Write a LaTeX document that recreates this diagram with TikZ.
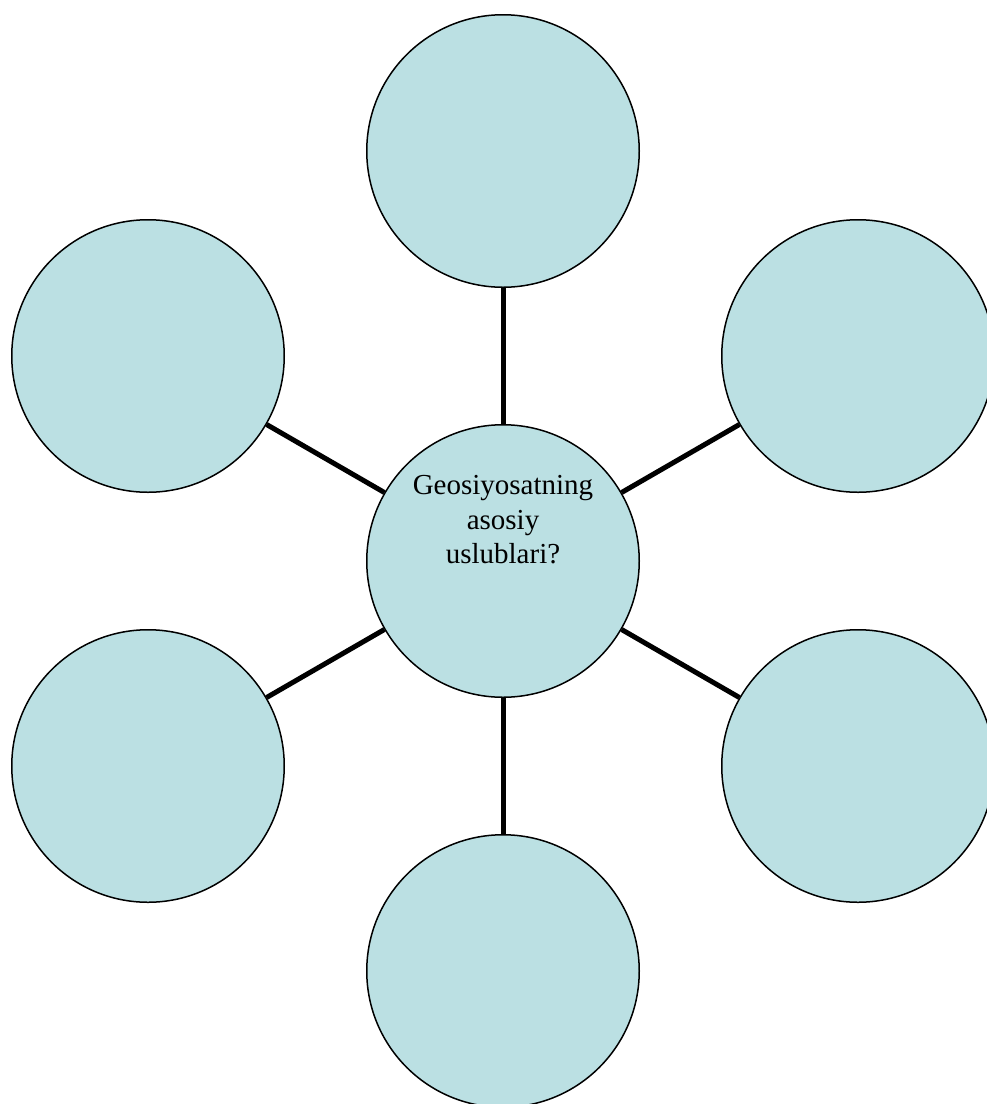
\documentclass[tikz,border=0pt]{standalone}
\usepackage{fontspec}
\setmainfont{Liberation Serif}
\definecolor{bubble}{RGB}{187,224,227}
\tikzset{
  bub/.style={circle, draw=black, line width=1.5pt, fill=bubble, minimum size=272.5pt, inner sep=0pt},
  spoke/.style={line width=5pt, black},
  lbl/.style={align=center, font=\fontsize{29}{34.5}\selectfont, inner sep=0pt}
}
\begin{document}
\begin{tikzpicture}[x=1pt,y=-1pt]
\useasboundingbox (0,0) rectangle (987,1104);
\clip (0,0) rectangle (987,1104);
\node[bub] (c)  at (503,561) {};
\node[bub] (n)  at (503,151) {};
\node[bub] (s)  at (503,971) {};
\node[bub] (nw) at (148,356) {};
\node[bub] (sw) at (148,766) {};
\node[bub] (ne) at (858,356) {};
\node[bub] (se) at (858,766) {};
\node[lbl] (t) at (503,520) {Geosiyosatning\\asosiy\\uslublari?};
\foreach \k in {n,s,nw,sw,ne,se}{
  \draw[spoke] (c) -- (\k);
}
\end{tikzpicture}
\end{document}
